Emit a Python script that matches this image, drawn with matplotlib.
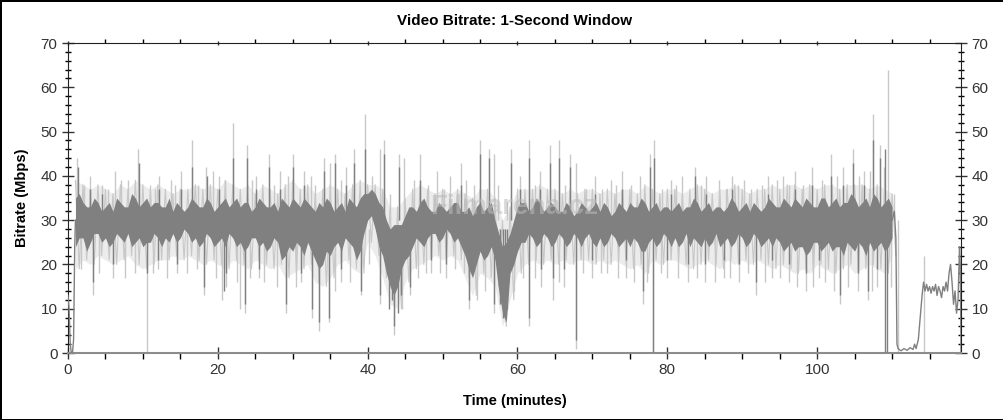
import numpy as np
import matplotlib
matplotlib.use("Agg")
import matplotlib.pyplot as plt
from matplotlib.ticker import MultipleLocator

plt.rcParams['font.family'] = ['Liberation Sans', 'DejaVu Sans']

# band envelopes, one value per minute (t = 1 .. 110)
minutes = np.arange(1, 111)

core_hi = [35, 34, 33, 34, 33, 32, 34, 33, 35, 34,
           33, 34, 33, 32, 33, 33, 34, 33, 34, 33,
           35, 34, 33, 34, 33, 34, 33, 32, 34, 35,
           33, 34, 32, 33, 34, 33, 32, 34, 35, 36,
           36, 33, 28, 29, 31, 33, 34, 33, 32, 33,
           33, 34, 32, 31, 34, 33, 30, 24, 27, 33,
           34, 33, 34, 33, 33, 32, 33, 32, 33, 33,
           32, 33, 32, 33, 34, 33, 34, 33, 32, 33,
           33, 32, 33, 34, 33, 32, 33, 33, 34, 33,
           32, 33, 33, 34, 33, 34, 35, 33, 34, 33,
           35, 34, 33, 34, 35, 34, 33, 35, 34, 33]
core_lo = [24, 26, 25, 27, 26, 25, 26, 27, 25, 24,
           25, 26, 26, 27, 26, 27, 26, 25, 26, 25,
           24, 26, 25, 24, 26, 25, 24, 25, 22, 23,
           24, 25, 21, 20, 22, 25, 26, 24, 23, 30,
           28, 22, 15, 15, 21, 24, 25, 26, 27, 26,
           27, 26, 22, 17, 23, 22, 21, 9, 18, 23,
           25, 26, 25, 26, 25, 26, 25, 26, 26, 25,
           26, 25, 26, 25, 24, 25, 23, 26, 25, 26,
           26, 25, 24, 25, 26, 25, 24, 26, 25, 26,
           25, 26, 25, 24, 25, 24, 23, 24, 23, 25,
           24, 23, 24, 25, 23, 24, 25, 24, 23, 26]
# the same envelope read half a minute later (t = 1.5 .. 109.5)
mid_hi = [36, 33, 35, 32, 34, 35, 33, 36, 33, 35,
          34, 33, 35, 34, 32, 35, 33, 35, 32, 34,
          33, 35, 34, 32, 35, 33, 34, 35, 33, 34,
          35, 33, 34, 35, 32, 34, 35, 33, 36, 37,
          34, 30, 29, 29, 33, 32, 35, 32, 34, 32,
          34, 32, 33, 33, 32, 34, 27, 25, 30, 34,
          32, 35, 32, 34, 32, 34, 31, 34, 32, 34,
          34, 31, 34, 32, 33, 35, 32, 34, 33, 32,
          34, 33, 35, 32, 34, 33, 32, 35, 32, 34,
          34, 32, 35, 33, 35, 33, 34, 35, 33, 35,
          33, 35, 34, 36, 33, 35, 36, 33, 35]
mid_lo = [26, 23, 27, 25, 24, 27, 25, 24, 26, 25,
          27, 24, 25, 25, 28, 25, 24, 27, 24, 26,
          27, 24, 23, 26, 24, 23, 26, 21, 24, 25,
          22, 23, 19, 23, 24, 23, 25, 21, 27, 31,
          24, 18, 13, 19, 22, 26, 24, 27, 25, 28,
          25, 24, 19, 20, 21, 24, 14, 7, 20, 25,
          27, 24, 27, 24, 27, 24, 27, 24, 27, 24,
          24, 27, 24, 26, 26, 23, 25, 24, 27, 24,
          24, 27, 26, 24, 24, 27, 25, 24, 27, 24,
          27, 24, 26, 26, 23, 25, 24, 22, 25, 23,
          25, 24, 22, 24, 25, 22, 23, 25, 24]
soft_hi = [39, 38, 37, 38, 37, 36, 38, 37, 39, 38,
           37, 38, 37, 36, 37, 37, 38, 37, 38, 37,
           39, 38, 37, 38, 36, 38, 37, 36, 38, 39,
           37, 38, 36, 37, 38, 37, 36, 38, 39, 38,
           38, 37, 33, 33, 35, 37, 38, 37, 36, 37,
           36, 37, 36, 35, 37, 37, 35, 30, 33, 37,
           37, 37, 38, 37, 37, 36, 37, 36, 37, 37,
           36, 37, 36, 37, 37, 36, 38, 37, 36, 37,
           37, 36, 37, 38, 37, 36, 37, 37, 38, 37,
           36, 37, 37, 38, 37, 38, 38, 37, 38, 37,
           38, 38, 37, 38, 38, 38, 37, 38, 37, 36]
soft_lo = [19, 21, 20, 22, 21, 20, 21, 22, 20, 19,
           20, 21, 21, 22, 21, 22, 21, 20, 21, 20,
           19, 21, 20, 19, 21, 20, 19, 20, 17, 18,
           19, 20, 16, 15, 17, 20, 21, 19, 18, 25,
           22, 17, 11, 10, 16, 19, 20, 21, 22, 21,
           22, 21, 17, 13, 18, 17, 15, 6, 12, 18,
           20, 21, 20, 21, 20, 21, 20, 21, 21, 20,
           21, 20, 21, 20, 19, 20, 18, 21, 20, 21,
           21, 20, 19, 20, 21, 20, 19, 21, 20, 21,
           20, 21, 20, 19, 20, 19, 18, 19, 18, 20,
           19, 18, 19, 20, 18, 19, 20, 19, 18, 22]

# single-second peaks and drops (light trace)
peak_t = [1.2, 2.9, 4.6, 6.3, 8.0, 9.4, 12.2, 13.8, 15.1, 16.6, 18.4, 19.3, 20.1, 22.0,
          23.9, 25.1, 26.8, 28.3, 30.0, 31.5, 32.4, 34.2, 35.0, 35.7, 37.1, 38.2, 39.6,
          41.7, 42.2, 44.2, 44.8, 47.0, 49.3, 51.0, 52.4, 55.0, 56.2, 56.8, 59.1, 60.3,
          61.5, 63.0, 64.4, 65.5, 67.0, 67.8, 70.4, 72.5, 74.0, 76.3, 77.7, 78.2, 80.5,
          82.0, 83.7, 85.2, 86.9, 88.6, 90.2, 93.5, 95.4, 97.0, 99.3, 101.9, 103.4,
          104.8, 106.2, 107.5, 108.4, 109.4,
          2.2, 5.4, 7.1, 10.9, 11.6, 14.3, 17.4, 21.0, 24.6, 27.5, 29.4, 33.0, 36.4,
          40.6, 43.0, 46.2, 48.1, 50.2, 53.1, 54.2, 57.4, 58.6, 62.3, 66.3, 69.1, 71.3,
          73.2, 75.1, 79.3, 81.1, 84.5, 87.8, 89.4, 91.1, 92.6, 94.6, 96.2, 98.1, 100.6,
          102.7, 105.6, 107.0, 108.9, 110.2]
peak_v = [44, 40, 38, 41, 39, 46, 40, 39, 41, 48, 42, 41, 40, 52,
          47, 40, 45, 41, 45, 41, 40, 44, 43, 45, 42, 46, 54,
          46, 48, 45, 44, 45, 41, 40, 43, 48, 46, 45, 46, 40,
          48, 41, 47, 48, 45, 43, 40, 39, 41, 40, 45, 48, 39,
          40, 42, 40, 39, 40, 39, 40, 40, 41, 42, 45, 42,
          46, 41, 54, 47, 64,
          38, 37, 39, 38, 37, 38, 38, 39, 39, 38, 40, 38, 39,
          40, 36, 39, 38, 37, 39, 38, 38, 34, 38, 38, 37, 37,
          38, 38, 37, 38, 38, 37, 38, 37, 38, 39, 38, 38, 39,
          40, 40, 41, 42, 36]
drop_t = [3.3, 6.0, 10.5, 12.0, 14.5, 18.2, 20.6, 21.1, 23.0, 23.6, 25.5, 29.1, 31.1, 32.6,
          33.5, 34.8, 36.5, 39.1, 41.7, 43.5, 45.7, 48.5, 50.5, 53.5, 56.8, 58.3, 61.5,
          63.2, 64.8, 66.2, 67.8, 70.0, 72.0, 74.5, 76.8, 78.1, 80.0, 82.8, 85.0, 87.5,
          89.5, 91.9, 94.0, 96.2, 98.5, 100.2, 103.0, 105.5, 106.8, 108.0,
          1.8, 4.2, 7.6, 8.9, 11.3, 13.2, 15.9, 17.2, 19.7, 22.5, 24.3, 26.2, 27.9,
          30.4, 35.6, 37.7, 40.2, 44.6, 46.7, 47.8, 49.6, 51.7, 52.8, 54.6, 55.6, 57.7,
          59.6, 60.7, 62.4, 65.6, 68.8, 71.2, 73.4, 75.6, 77.3, 79.2, 81.4, 83.9, 86.3,
          88.4, 90.7, 93.0, 95.1, 97.3, 99.4, 101.1, 102.3, 104.1, 107.3, 109.8]
drop_v = [13, 17, 0, 19, 18, 13, 12, 15, 10, 9, 17, 9, 16, 8,
          5, 7, 16, 13, 11, 4, 13, 18, 17, 10, 9, 7, 6,
          15, 12, 15, 1, 17, 18, 17, 11, 0, 17, 16, 16, 17,
          16, 13, 17, 16, 14, 17, 11, 14, 12, 15,
          19, 18, 17, 18, 18, 17, 18, 19, 17, 16, 17, 16, 15,
          15, 14, 16, 20, 10, 17, 18, 18, 19, 18, 12, 14, 11,
          14, 17, 17, 16, 18, 18, 17, 16, 16, 18, 17, 17, 16,
          17, 18, 16, 17, 15, 15, 16, 14, 15, 14, 15]

# single-second peaks and drops (dark trace)
dark_peak_t = [1.3, 2.9, 9.5, 16.6, 18.5, 22.0, 23.9, 26.8, 30.0, 34.2, 35.7, 38.2, 39.6,
               42.2, 44.2, 55.0, 56.2, 59.1, 61.5, 64.4, 65.5, 67.0, 77.7, 78.2, 83.7,
               101.9, 104.8, 107.5, 108.4, 109.0,
               4.6, 12.2, 15.1, 20.1, 25.1, 28.3, 31.5, 37.1, 47.0, 52.4, 60.3, 63.0,
               70.4, 74.0, 80.5, 85.2, 88.6, 93.5, 97.0, 99.3, 103.4, 106.2]
dark_peak_v = [42, 37, 43, 42, 40, 44, 44, 42, 42, 41, 43, 43, 46,
               45, 42, 45, 44, 43, 44, 43, 44, 42, 42, 44, 40,
               40, 43, 48, 44, 46,
               36, 37, 37, 37, 37, 37, 38, 38, 39, 38, 37, 37,
               36, 37, 36, 36, 37, 36, 37, 38, 38, 38]
dark_drop_t = [3.3, 10.6, 18.2, 20.8, 23.6, 29.1, 32.6, 33.5, 34.8, 39.1, 41.7, 43.5, 45.7,
               53.5, 56.8, 58.3, 61.5, 67.8, 76.8, 78.1, 91.9, 103.0, 106.8, 109.1, 109.3,
               6.0, 12.0, 14.5, 21.1, 25.5, 31.1, 36.5, 48.5, 50.5, 63.2, 64.8, 66.2,
               70.0, 74.5, 80.0, 82.8, 85.0, 87.5, 89.5, 94.0, 96.2, 98.5, 100.2, 105.5, 108.0,
               42.8, 43.2, 44.0, 44.4, 57.6, 58.0, 58.6]
dark_drop_v = [16, 18, 15, 14, 11, 11, 10, 7, 8, 14, 13, 6, 15,
               12, 11, 8, 8, 3, 14, 0, 16, 13, 14, 0, 0,
               20, 21, 20, 18, 19, 18, 19, 21, 20, 19, 17, 19,
               21, 21, 21, 20, 20, 21, 20, 21, 20, 18, 21, 18, 19,
               10, 12, 9, 13, 11, 8, 10]

# start and end of the programme, traced as a plain line
head_t = [0, 0.15, 0.3, 0.45, 0.6, 0.75, 0.9, 1.0]
head_v = [13, 10, 2, 0, 0, 3, 24, 30]
tail_t = [110.0, 110.3, 110.5, 110.65, 110.8, 111.2, 111.6, 112.0, 112.4, 112.8, 113.0,
          113.2, 113.5, 113.8, 114.0, 114.2, 114.4, 114.6, 114.8, 115.0, 115.2, 115.4,
          115.6, 115.8, 116.0, 116.2, 116.4, 116.6, 116.8, 117.0, 117.2, 117.4, 117.6,
          117.8, 118.0, 118.2, 118.4, 118.6, 118.8, 119.0, 119.1, 119.2]
tail_v = [30, 32, 26, 2, 1, 0.5, 1, 0.6, 1.2, 0.8, 2,
          1, 3, 9, 13, 16, 14, 15.5, 14, 15, 13.5, 15,
          14, 15.5, 13, 15, 14, 12.5, 15, 14, 16, 14, 18,
          20, 16, 11, 14, 9, 12, 24, 20, 0]

dark = '#808080'
light = '#c8c8c8'

# merge whole-minute and half-minute readings into one series
band_t = np.append(np.column_stack([minutes[:-1], minutes[:-1] + 0.5]).ravel(), minutes[-1])
band_hi = np.append(np.column_stack([core_hi[:-1], mid_hi]).ravel(), core_hi[-1])
band_lo = np.append(np.column_stack([core_lo[:-1], mid_lo]).ravel(), core_lo[-1])
# light trace: zig-zag between its upper and lower readings
soft_t = np.column_stack([minutes, minutes + 0.5]).ravel()
soft_v = np.column_stack([soft_hi, soft_lo]).ravel()

fig = plt.figure(figsize=(10.04, 4.20), dpi=100, facecolor='white',
                 edgecolor='black', linewidth=2)
ax = fig.add_axes([0.0677, 0.1595, 0.8895, 0.7381])

ax.fill_between(minutes, soft_lo, soft_hi, color='#ececec', lw=0, zorder=1)
ax.plot(soft_t, soft_v, color=light, lw=0.8, zorder=1.5)
ax.vlines(peak_t, 30, peak_v, color=light, lw=1, zorder=2)
ax.vlines(drop_t, drop_v, 28, color=light, lw=1, zorder=2)
ax.fill_between(band_t, band_lo, band_hi, color=dark, lw=0, zorder=3)
ax.vlines(dark_peak_t, 30, dark_peak_v, color=dark, lw=1, zorder=3)
ax.vlines(dark_drop_t, dark_drop_v, 28, color=dark, lw=1, zorder=3)
ax.plot(head_t, head_v, color=dark, lw=1, zorder=3)
ax.plot(tail_t, tail_v, color=dark, lw=1, zorder=3)
ax.vlines([110.8, 114.2], 0, [30, 22], color=light, lw=1, zorder=2)

ax.text(0.5, 0.47, 'Filmarena.cz', transform=ax.transAxes, ha='center', va='center',
        fontsize=20, fontweight='bold', color='#bbbbbb', alpha=0.55, zorder=4)

ax.set_xlim(0, 119.2)
ax.set_ylim(0, 70)
ax.xaxis.set_major_locator(MultipleLocator(20))
ax.xaxis.set_minor_locator(MultipleLocator(5))
ax.yaxis.set_major_locator(MultipleLocator(10))
ax.yaxis.set_minor_locator(MultipleLocator(2))

ax.tick_params(axis='y', which='major', direction='inout', length=8, width=1,
               labelsize=11, left=True, right=True, labelleft=True, labelright=True)
ax.tick_params(axis='y', which='minor', direction='inout', length=5, width=1,
               left=True, right=True)
ax.tick_params(axis='x', which='major', direction='inout', length=8, width=1,
               labelsize=11, top=True, bottom=True)
ax.tick_params(axis='x', which='minor', direction='out', length=4, width=1,
               top=True, bottom=True)
for t in ax.xaxis.get_minor_ticks() + ax.xaxis.get_major_ticks():
    t.tick2line.set_markersize(3)
ax.tick_params(colors='#333333')

for side in ['left', 'right', 'top']:
    ax.spines[side].set_color('#222222')
ax.spines['bottom'].set_color('#8c8c8c')
ax.spines['bottom'].set_linewidth(1.5)

ax.set_title('Video Bitrate: 1-Second Window', fontsize=11, fontweight='bold', pad=13)
ax.set_xlabel('Time (minutes)', fontsize=10.5, fontweight='bold', labelpad=12)
ax.set_ylabel('Bitrate (Mbps)', fontsize=10.5, fontweight='bold', labelpad=8)

fig.savefig('out.png', dpi=100, facecolor='white', edgecolor=fig.get_edgecolor())
